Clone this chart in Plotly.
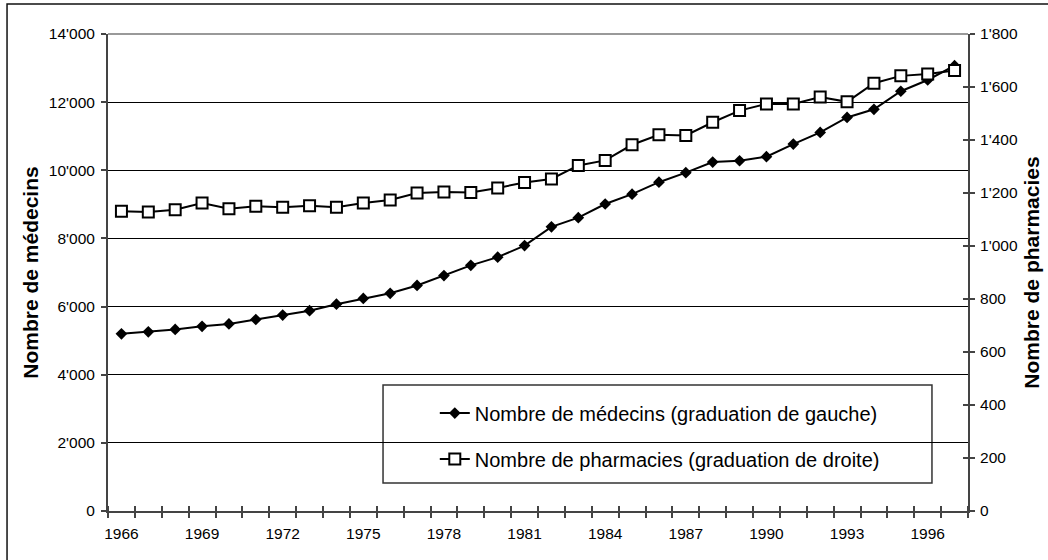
import plotly.graph_objects as go

# ---- data ----
years = list(range(1966, 1998))
medecins = [5200, 5260, 5330, 5420, 5490, 5620, 5750, 5880, 6070, 6240,
            6390, 6620, 6910, 7210, 7450, 7790, 8340, 8610, 9010, 9300,
            9650, 9930, 10240, 10280, 10400, 10770, 11110, 11550, 11790, 12320,
            12650, 13070]
pharmacies = [1131, 1128, 1137, 1162, 1141, 1150, 1146, 1152, 1146, 1162,
              1174, 1200, 1204, 1202, 1219, 1240, 1253, 1304, 1323, 1382,
              1420, 1417, 1467, 1511, 1536, 1536, 1562, 1544, 1614, 1642,
              1649, 1662]
label_years = list(range(1966, 1998, 3))
name_med = "Nombre de médecins (graduation de gauche)"
name_pha = "Nombre de pharmacies (graduation de droite)"
title_left = "Nombre de médecins"
title_right = "Nombre de pharmacies"

FONT = "Liberation Sans, Arial, sans-serif"
AXC = "#444444"

fig = go.Figure()
fig.add_trace(go.Scatter(
    x=years, y=medecins, name=name_med, mode="lines+markers",
    line=dict(color="black", width=2),
    marker=dict(symbol="diamond", size=9, color="black"),
    legendgroup="a", xaxis="x", yaxis="y"))
fig.add_trace(go.Scatter(
    x=years, y=pharmacies, name=name_pha, mode="lines+markers",
    line=dict(color="black", width=2),
    marker=dict(symbol="square", size=11, color="white",
                line=dict(color="black", width=2)),
    legendgroup="b", xaxis="x", yaxis="y2"))
# empty helper trace so the overlay tick axes are drawn
fig.add_trace(go.Scatter(x=[None], y=[None], showlegend=False,
                         hoverinfo="skip", xaxis="x2", yaxis="y3"))

fig.update_layout(
    template="none",
    width=1048, height=560, autosize=False,
    margin=dict(l=108, r=80, t=34, b=49, autoexpand=False),
    paper_bgcolor="white", plot_bgcolor="white",
    font=dict(family=FONT, size=15.5, color="black"),
    separators=".'",
    showlegend=True,
    legend=dict(x=0.38, xanchor="left", y=0.157, yanchor="middle",
                bgcolor="rgba(0,0,0,0)", borderwidth=0,
                font=dict(size=20, family=FONT, color="black"),
                tracegroupgap=17, traceorder="grouped"),
    xaxis=dict(
        automargin=False,
        range=[1965.5, 1997.5], tickmode="array", tickvals=label_years,
        ticktext=[str(y) for y in label_years], ticks="",
        showgrid=False, zeroline=False,
        showline=True, linecolor=AXC, linewidth=2,
        ticklabelstandoff=7,
        minor=dict(tickmode="linear", tick0=1965.5, dtick=1,
                   ticks="outside", ticklen=5, tickcolor=AXC, tickwidth=1.5,
                   showgrid=False),
    ),
    xaxis2=dict(
        automargin=False,
        overlaying="x", anchor="y", side="bottom",
        range=[1965.5, 1997.5], showticklabels=False, ticks="",
        showgrid=False, zeroline=False, showline=False,
        minor=dict(tickmode="linear", tick0=1965.5, dtick=1,
                   ticks="inside", ticklen=5, tickcolor=AXC, tickwidth=1.5,
                   showgrid=False),
    ),
    yaxis=dict(
        automargin=False,
        range=[0, 14000], dtick=2000, tickformat=",d",
        showgrid=True, gridcolor="black", gridwidth=1, zeroline=False,
        showline=True, linecolor=AXC, linewidth=2,
        ticks="outside", ticklen=5, tickcolor=AXC, tickwidth=1.5,
        ticklabelstandoff=3,
        title=dict(text=title_left,
                   font=dict(size=21, family=FONT, weight="bold"),
                   standoff=4),
    ),
    yaxis2=dict(
        automargin=False,
        overlaying="y", side="right", anchor="x",
        range=[0, 1800], dtick=200, tickformat=",d",
        showgrid=False, zeroline=False,
        showline=True, linecolor=AXC, linewidth=2,
        ticks="outside", ticklen=5, tickcolor=AXC, tickwidth=1.5,
        ticklabelstandoff=2,
        title=dict(text=title_right,
                   font=dict(size=21, family=FONT, weight="bold"),
                   standoff=7),
    ),
    yaxis3=dict(
        automargin=False,
        overlaying="y", side="right", anchor="x",
        range=[0, 1800], dtick=200, showticklabels=False,
        showgrid=False, zeroline=False, showline=False,
        ticks="inside", ticklen=5, tickcolor=AXC, tickwidth=1.5,
    ),
    shapes=[
        # gray top border of the plot area
        dict(type="line", xref="paper", yref="paper", x0=0, x1=1, y0=1, y1=1,
             line=dict(color="#999999", width=2), layer="above"),
        # legend frame
        dict(type="rect", xref="paper", yref="paper",
             x0=0.3198, x1=0.9581, y0=0.0587, y1=0.2642,
             line=dict(color="#333333", width=1.5), fillcolor="white",
             layer="below"),
        # outer chart frame (cut by the image on the right and bottom)
        dict(type="rect", xref="paper", yref="paper",
             x0=-0.1174, x1=1.12, y0=-0.2, y1=1.0629,
             line=dict(color="#111111", width=1.5), layer="below"),
    ],
)

fig.write_html("out.html",
               config={"displayModeBar": False},
               post_script="document.body.style.margin='0';"
                           "document.body.style.overflow='hidden';")
